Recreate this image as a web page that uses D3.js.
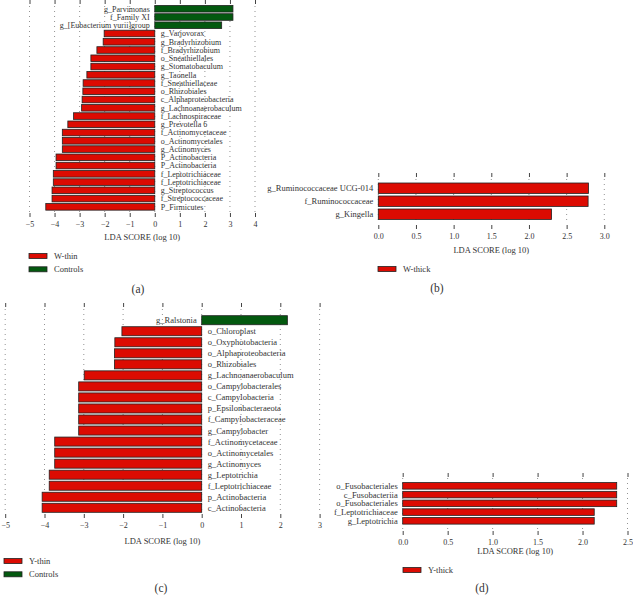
<!DOCTYPE html>
<html><head><meta charset="utf-8">
<script src="https://cdn.jsdelivr.net/npm/d3@7"></script>
<style>
body{margin:0;background:#fff;}
text{font-family:"Liberation Serif","DejaVu Serif",serif;fill:#333;}
</style></head>
<body><svg id="chart" width="633" height="596"></svg>
<script>
// ---- data ----
const aLabels = ["g_Parvimonas","f_Family XI","g_[Eubacterium yurii]group","g_Varjovorax","g_Bradyrhizobium","f_Bradyrhizobium","o_Sneathiellales","g_Stomatobaculum","g_Taonella","f_Sneathiellaceae","o_Rhizobiales","c_Alphaproteobacteria","g_Lachnoanaerobaculum","f_Lachnospiraceae","g_Prevotella 6","f_Actinomycetaceae","o_Actinomycetales","g_Actinomyces","P_Actinobacteria","P_Actinobacteria","f_Leptotrichiaceae","f_Leptotrichiaceae","g_Streptococcus","f_Streptococcaceae","P_Firmicutes"];
const aValues = [3.12,3.12,2.67,-2.02,-2.06,-2.31,-2.55,-2.55,-2.71,-2.86,-2.87,-2.9,-2.92,-3.24,-3.47,-3.69,-3.69,-3.69,-3.94,-3.94,-4.05,-4.05,-4.1,-4.1,-4.35];
const aTicks = [-5,-4,-3,-2,-1,0,1,2,3,4];
const aLegend = ["W-thin","Controls"];

const bLabels = ["g_Ruminococcaceae UCG-014","f_Ruminococcaceae","g_Kingella"];
const bValues = [2.79,2.785,2.30];
const bTicks = [0,0.5,1,1.5,2,2.5,3];
const bLegend = ["W-thick"];

const cLabels = ["g_Ralstonia","o_Chloroplast","o_Oxyphotobacteria","o_Alphaproteobacteria","o_Rhizobiales","g_Lachnoanaerobaculum","o_Campylobacterales","c_Campylobacteria","p_Epsilonbacteraeota","f_Campylobacteraceae","g_Campylobacter","f_Actinomycetaceae","o_Actinomycetales","g_Actinomyces","g_Leptotrichia","f_Leptotrichiaceae","p_Actinobacteria","c_Actinobacteria"];
const cValues = [2.18,-2.03,-2.21,-2.22,-2.22,-2.99,-3.13,-3.13,-3.13,-3.13,-3.13,-3.74,-3.74,-3.74,-3.88,-3.88,-4.06,-4.06];
const cTicks = [-5,-4,-3,-2,-1,0,1,2,3];
const cLegend = ["Y-thin","Controls"];

const dLabels = ["o_Fusobacteriales","c_Fusobacteriia","o_Fusobacteriales","f_Leptotrichiaceae","g_Leptotrichia"];
const dValues = [2.38,2.38,2.38,2.13,2.13];
const dTicks = [0,0.5,1,1.5,2,2.5];
const dLegend = ["Y-thick"];

const axisTitle = "LDA SCORE (log 10)";
const captions = ["(a)","(b)","(c)","(d)"];

const RED = "#dc0b02", GREEN = "#03590f";

const svg = d3.select("#chart");

function panel(o){
  const g = svg.append("g");
  const x = d3.scaleLinear().domain(o.domain).range(o.xr);
  const y = d3.scaleBand().domain(d3.range(o.labels.length)).range(o.yr).padding(o.pad);
  g.selectAll(".grid").data(o.ticks).join("line")
    .attr("x1",d=>x(d)).attr("x2",d=>x(d))
    .attr("y1",o.gridTop).attr("y2",o.gridBot)
    .attr("stroke","#777").attr("stroke-width",0.8).attr("stroke-dasharray","1,4");
  const top = g.append("g").attr("transform",`translate(0,${o.topY})`)
    .call(d3.axisTop(x).tickValues(o.ticks).tickSize(4).tickFormat(""));
  top.select(".domain").remove();
  top.selectAll("line").attr("stroke","#444");
  const bot = g.append("g").attr("transform",`translate(0,${o.botY})`)
    .call(d3.axisBottom(x).tickValues(o.ticks).tickSize(4).tickPadding(4).tickFormat(d3.format(o.fmt)));
  bot.select(".domain").remove();
  bot.selectAll("line").attr("stroke","#444");
  bot.selectAll("text").attr("font-size",8).attr("font-family",'"Liberation Serif",serif').attr("fill","#333");
  g.selectAll(".bar").data(o.values).join("rect")
    .attr("x",d=>x(Math.min(0,d))).attr("width",d=>Math.abs(x(d)-x(0)))
    .attr("y",(d,i)=>y(i)).attr("height",y.bandwidth())
    .attr("fill",d=>d<0?o.negColor:o.posColor)
    .attr("stroke","#222").attr("stroke-width",0.8);
  g.selectAll(".lab").data(o.labels).join("text")
    .attr("x",(d,i)=> (o.values[i]<0 ? x(0)+6 : x(0)-5))
    .attr("y",(d,i)=>y(i)+y.bandwidth()/2)
    .attr("dy","0.35em")
    .attr("text-anchor",(d,i)=>o.values[i]<0?"start":"end")
    .attr("font-size",o.labSize).text(d=>d);
  g.append("text").attr("x",(o.xr[0]+o.xr[1])/2).attr("y",o.titleY).attr("text-anchor","middle")
    .attr("font-size",8.5).text(axisTitle);
  o.legend.forEach((t,i)=>{
    const ly = o.legY + i*13.3;
    g.append("rect").attr("x",o.legX).attr("y",ly-2.5).attr("width",18).attr("height",5)
      .attr("fill",o.legColors[i]).attr("stroke","#222").attr("stroke-width",0.8);
    g.append("text").attr("x",o.legX+25).attr("y",ly).attr("dy","0.35em").attr("font-size",8.5).text(t);
  });
  g.append("text").attr("x",o.capX).attr("y",o.capY).attr("dy","0.35em").attr("text-anchor","middle")
    .attr("font-size",11.5).text(o.caption);
}

panel({labels:aLabels,values:aValues,ticks:aTicks,domain:[-5,4],xr:[29.5,255],yr:[3.8,211.8],pad:0.2,labSize:8,
  gridTop:6,gridBot:212,topY:4,botY:213,fmt:"d",titleY:240,negColor:RED,posColor:GREEN,
  legend:aLegend,legColors:[RED,GREEN],legX:29,legY:256,capX:138,capY:289,caption:captions[0]});

panel({labels:bLabels,values:bValues,ticks:bTicks,domain:[0,3],xr:[378.3,604.3],yr:[180.4,222],pad:0.2,labSize:8.5,
  gridTop:179,gridBot:224,topY:177,botY:225,fmt:".1f",titleY:253,negColor:RED,posColor:RED,
  legend:bLegend,legColors:[RED],legX:378,legY:269,capX:437,capY:288,caption:captions[1]});

panel({labels:cLabels,values:cValues,ticks:cTicks,domain:[-5,3],xr:[5.2,319.6],yr:[313.7,514.3],pad:0.18,labSize:8.5,
  gridTop:309,gridBot:513,topY:307,botY:514,fmt:"d",titleY:544,negColor:RED,posColor:GREEN,
  legend:cLegend,legColors:[RED,GREEN],legX:4,legY:561,capX:161,capY:588,caption:captions[2]});

panel({labels:dLabels,values:dValues,ticks:dTicks,domain:[0,2.5],xr:[402.7,627.5],yr:[480.4,526.3],pad:0.25,labSize:8.5,
  gridTop:478,gridBot:530,topY:477,botY:531,fmt:".1f",titleY:554,negColor:RED,posColor:RED,
  legend:dLegend,legColors:[RED],legX:403,legY:570,capX:482,capY:588,caption:captions[3]});
</script></body></html>
